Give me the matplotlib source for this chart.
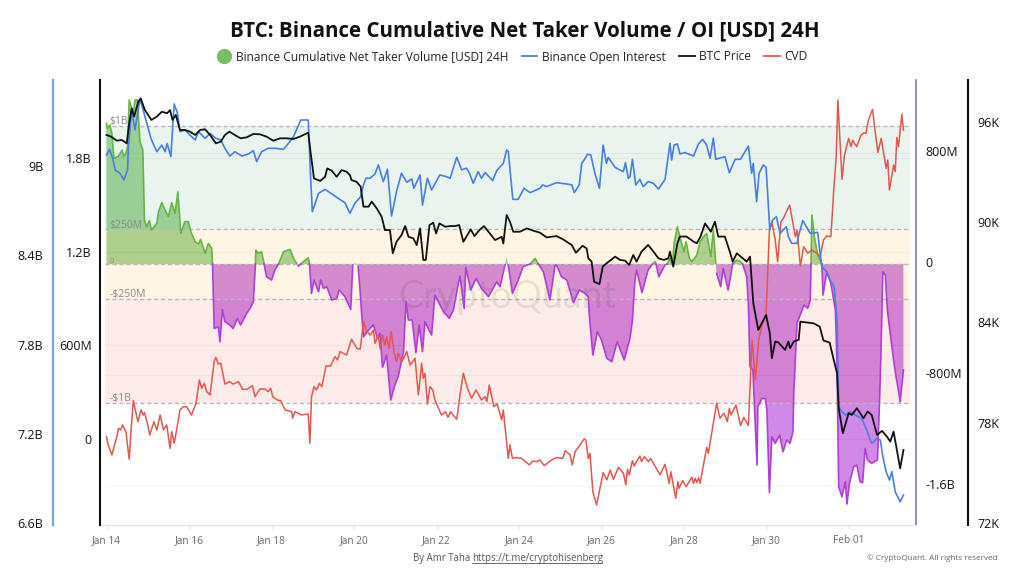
import numpy as np
import matplotlib
matplotlib.use("Agg")
import matplotlib.pyplot as plt
from matplotlib.lines import Line2D
from matplotlib.transforms import ScaledTranslation

plt.rcParams['font.family'] = ['Open Sans', 'DejaVu Sans']

# x values are days since Jan 14
x_ticks = [0, 2, 4, 6, 8, 10, 12, 14, 16, 18]
x_labels = ["Jan 14", "Jan 16", "Jan 18", "Jan 20", "Jan 22", "Jan 24", "Jan 26", "Jan 28", "Jan 30", "Feb 01"]

btc_days = [0.0, .11, .25, .37, .49, .55, .61, .67, .77, .83, .93, 1.09, 1.22, 1.34, 1.47, 1.54, 1.60, 1.68, 1.78, 1.90,
            2.02, 2.15, 2.27, 2.39, 2.51, 2.65, 2.77, 2.87, 2.98, 3.11, 3.25, 3.40, 3.56, 3.72, 3.88, 4.04, 4.21, 4.37, 4.53, 4.69,
            4.89, 4.95, 5.03, 5.18, 5.30, 5.35, 5.46, 5.58, 5.70, 5.82, 5.90, 5.94, 6.06, 6.16, 6.23, 6.35, 6.43, 6.55, 6.67, 6.75,
            6.87, 6.94, 7.03, 7.15, 7.24, 7.32, 7.44, 7.52, 7.60, 7.68, 7.74, 7.83, 7.92, 7.99, 8.07, 8.21, 8.33, 8.45, 8.55, 8.65,
            8.77, 8.83, 8.92, 9.04, 9.15, 9.26, 9.42, 9.58, 9.62, 9.70, 9.78, 9.86, 10.02, 10.19, 10.35, 10.51, 10.67, 10.91, 11.07, 11.28,
            11.38, 11.54, 11.64, 11.68, 11.76, 11.82, 11.95, 12.03, 12.12, 12.33, 12.45, 12.57, 12.67, 12.77, 12.85, 12.97, 13.13, 13.26, 13.38, 13.51,
            13.62, 13.66, 13.74, 13.84, 13.90, 14.06, 14.23, 14.31, 14.40, 14.51, 14.65, 14.75, 14.83, 14.99, 15.11, 15.18, 15.28, 15.52, 15.60, 15.68,
            15.74, 15.80, 15.99, 16.08, 16.13, 16.21, 16.29, 16.45, 16.53, 16.57, 16.66, 16.78, 16.82, 17.02, 17.14, 17.29, 17.38, 17.53, 17.63, 17.71,
            17.75, 17.85, 17.99, 18.07, 18.19, 18.35, 18.45, 18.55, 18.68, 18.80, 18.92, 19.00, 19.08, 19.24, 19.32]
btc_k = [95.22, 95.12, 94.88, 94.92, 94.72, 95.92, 96.81, 96.32, 97.21, 97.41, 96.71, 96.12, 96.32, 96.61, 96.52, 96.71, 96.12, 96.42, 95.52, 95.52,
         95.42, 95.22, 95.52, 95.56, 95.22, 94.72, 94.82, 95.22, 95.42, 95.22, 95.02, 95.08, 95.28, 95.26, 95.12, 94.88, 95.02, 95.02, 94.98, 95.12,
         95.36, 94.12, 92.62, 92.47, 92.72, 93.22, 93.08, 92.72, 93.12, 93.02, 92.82, 92.52, 92.42, 92.13, 90.93, 90.93, 91.23, 90.83, 90.33, 89.53,
         89.53, 88.14, 88.83, 89.23, 89.77, 89.13, 89.03, 88.63, 89.63, 87.74, 87.74, 89.83, 89.97, 89.33, 89.93, 89.73, 89.77, 89.77, 89.83, 88.83,
         89.33, 89.57, 89.17, 89.53, 89.77, 89.43, 88.93, 89.13, 88.73, 90.43, 90.03, 89.43, 89.43, 89.63, 89.49, 89.37, 89.09, 89.17, 88.97, 88.63,
         88.17, 88.59, 88.43, 87.84, 87.64, 86.44, 86.30, 87.34, 87.54, 87.94, 87.74, 87.70, 87.44, 88.04, 87.64, 88.24, 88.64, 88.24, 87.84, 87.74,
         87.84, 88.24, 87.34, 88.74, 89.14, 89.14, 88.84, 88.74, 89.14, 89.93, 89.43, 90.03, 89.14, 89.14, 88.24, 87.64, 88.14, 87.64, 87.94, 85.15,
         84.35, 83.55, 84.45, 83.35, 81.86, 82.86, 82.80, 82.36, 82.86, 82.46, 82.86, 82.96, 84.05, 83.99, 83.95, 83.75, 82.92, 82.80, 81.76, 80.96,
         78.87, 77.37, 78.57, 78.47, 78.87, 78.27, 78.67, 78.47, 77.27, 77.51, 77.17, 76.87, 77.47, 75.27, 76.37]

oi_days = [0.0, .07, .15, .21, .33, .42, .51, .53, .61, .69, .81, .89, 1.01, 1.09, 1.22, 1.34, 1.42, 1.47, 1.56, 1.64,
           1.72, 1.78, 1.90, 2.02, 2.15, 2.23, 2.39, 2.51, 2.65, 2.77, 2.87, 2.99, 3.11, 3.28, 3.44, 3.56, 3.64, 3.76, 3.92, 4.08,
           4.29, 4.41, 4.53, 4.71, 4.89, 4.95, 4.99, 5.14, 5.30, 5.50, 5.62, 5.78, 5.90, 6.02, 6.16, 6.23, 6.29, 6.39, 6.51, 6.59,
           6.71, 6.81, 6.91, 7.03, 7.15, 7.28, 7.40, 7.45, 7.60, 7.66, 7.78, 7.88, 8.08, 8.23, 8.33, 8.49, 8.61, 8.73, 8.80, 8.89,
           9.01, 9.09, 9.18, 9.36, 9.46, 9.62, 9.70, 9.74, 9.85, 9.98, 10.12, 10.27, 10.51, 10.57, 10.67, 10.91, 11.16, 11.28, 11.34, 11.46,
           11.52, 11.58, 11.66, 11.74, 11.84, 11.95, 12.04, 12.12, 12.16, 12.33, 12.41, 12.53, 12.58, 12.65, 12.69, 12.75, 12.83, 12.93, 13.01, 13.13,
           13.26, 13.38, 13.54, 13.66, 13.70, 13.76, 13.84, 13.90, 14.02, 14.23, 14.35, 14.45, 14.55, 14.63, 14.71, 14.77, 14.99, 15.10, 15.24, 15.37,
           15.56, 15.64, 15.68, 15.76, 15.82, 15.92, 15.99, 16.08, 16.15, 16.24, 16.33, 16.48, 16.53, 16.61, 16.74, 16.78, 16.88, 17.06, 17.24, 17.34,
           17.46, 17.54, 17.64, 17.71, 17.75, 17.83, 17.91, 18.03, 18.15, 18.31, 18.43, 18.55, 18.68, 18.76, 18.82, 18.90, 18.98, 19.04, 19.12, 19.24, 19.32]
oi_b = [9.074, 9.112, 9.051, 8.973, 8.950, 8.906, 8.973, 9.130, 9.376, 9.242, 9.448, 9.376, 9.253, 9.175, 9.096, 9.141, 9.096, 9.152, 9.063, 9.417,
        9.354, 9.231, 9.242, 9.208, 9.175, 9.231, 9.186, 9.219, 9.186, 9.175, 9.119, 9.067, 9.096, 9.067, 9.081, 9.103, 9.029, 9.096, 9.119, 9.119,
        9.112, 9.152, 9.197, 9.309, 9.309, 8.906, 8.693, 8.816, 8.843, 8.805, 8.782, 8.753, 8.682, 8.749, 8.794, 8.873, 8.918, 8.918, 8.947, 9.007,
        8.895, 8.978, 8.664, 8.828, 8.951, 8.891, 8.913, 8.850, 8.940, 8.738, 8.918, 8.839, 8.940, 8.929, 8.918, 9.059, 8.974, 8.985, 8.951, 8.884,
        8.962, 8.918, 8.956, 8.902, 8.969, 9.018, 9.108, 9.097, 8.776, 8.776, 8.850, 8.821, 8.850, 8.873, 8.862, 8.888, 8.879, 8.873, 8.821, 8.873,
        9.018, 9.041, 9.079, 9.074, 8.951, 8.850, 9.141, 9.018, 9.058, 8.991, 8.978, 8.962, 9.022, 8.917, 8.928, 9.045, 8.872, 8.910, 8.861, 8.895,
        8.883, 8.845, 8.910, 9.152, 9.040, 9.141, 9.148, 9.081, 9.090, 9.067, 9.148, 9.179, 9.141, 9.052, 9.186, 9.045, 9.063, 8.955, 9.045, 9.045,
        9.134, 8.951, 9.018, 8.760, 8.951, 9.007, 8.991, 8.570, 8.637, 8.659, 8.547, 8.592, 8.525, 8.480, 8.480, 8.536, 8.633, 8.547, 8.554, 8.323,
        8.290, 8.234, 8.189, 7.965, 7.382, 7.348, 7.326, 7.348, 7.326, 7.303, 7.225, 7.135, 7.169, 7.158, 7.046, 6.945, 6.889, 6.945, 6.810, 6.743, 6.788]

cvd_days = [0.0, .04, .13, .25, .29, .34, .39, .47, .55, .59, .65, .76, .84, .89, .92, .99, 1.05, 1.15, 1.22, 1.30,
            1.38, 1.46, 1.54, 1.58, 1.64, 1.70, 1.78, 1.86, 1.94, 2.06, 2.17, 2.25, 2.31, 2.37, 2.43, 2.51, 2.61, 2.65, 2.71, 2.77,
            2.87, 2.98, 3.07, 3.20, 3.30, 3.40, 3.54, 3.60, 3.72, 3.84, 3.92, 3.98, 4.03, 4.14, 4.22, 4.33, 4.49, 4.51, 4.57, 4.73,
            4.89, 4.93, 4.97, 5.03, 5.09, 5.16, 5.22, 5.32, 5.43, 5.54, 5.60, 5.66, 5.82, 5.94, 6.07, 6.15, 6.23, 6.31, 6.40, 6.47,
            6.51, 6.59, 6.63, 6.69, 6.75, 6.79, 6.85, 6.90, 6.97, 7.03, 7.07, 7.16, 7.28, 7.36, 7.48, 7.56, 7.64, 7.68, 7.72, 7.78,
            7.84, 7.91, 7.96, 8.12, 8.22, 8.28, 8.34, 8.49, 8.57, 8.65, 8.75, 8.85, 8.96, 9.09, 9.18, 9.22, 9.28, 9.39, 9.47, 9.58,
            9.62, 9.74, 9.78, 9.84, 9.94, 10.06, 10.25, 10.33, 10.43, 10.51, 10.61, 10.79, 10.91, 11.06, 11.12, 11.24, 11.29, 11.36, 11.58, 11.62,
            11.68, 11.72, 11.79, 11.88, 12.04, 12.13, 12.21, 12.29, 12.41, 12.53, 12.59, 12.63, 12.67, 12.75, 12.79, 12.93, 12.97, 13.04, 13.14, 13.19,
            13.42, 13.54, 13.64, 13.68, 13.80, 13.85, 13.88, 13.97, 14.05, 14.19, 14.23, 14.27, 14.31, 14.35, 14.39, 14.55, 14.59, 14.79, 14.87, 14.97,
            15.05, 15.10, 15.14, 15.26, 15.37, 15.45, 15.56, 15.65, 15.73, 15.81, 15.89, 15.99, 16.07, 16.13, 16.21, 16.27, 16.35, 16.41, 16.56, 16.70,
            16.74, 16.82, 16.90, 17.00, 17.10, 17.22, 17.30, 17.38, 17.46, 17.56, 17.63, 17.69, 17.73, 17.83, 17.89, 17.99, 18.05, 18.09, 18.13, 18.19,
            18.29, 18.37, 18.41, 18.47, 18.57, 18.64, 18.70, 18.78, 18.90, 18.94, 18.98, 19.08, 19.12, 19.16, 19.20, 19.28, 19.32]
cvd_b = [.015, -.038, -.102, .015, .069, .058, .090, .047, -.130, .037, .246, .111, .186, .154, .169, .101, .026, .111, .058, .154,
         .058, .090, -.060, .047, -.027, .058, .186, .207, .207, .154, .229, .378, .325, .357, .303, .282, .496, .523, .481, .485,
         .352, .367, .352, .367, .318, .318, .342, .271, .320, .320, .303, .325, .271, .250, .246, .186, .175, .133, .175, .154,
         .160, -.027, .271, .335, .314, .357, .335, .468, .468, .528, .506, .560, .538, .639, .581, .575, .752, .688, .666, .698,
         .613, .666, .581, .666, .602, .656, .581, .688, .560, .495, .549, .495, .560, .474, .517, .282, .485, .389, .421, .224,
         .335, .314, .250, .154, .175, .139, .175, .126, .282, .421, .325, .261, .314, .250, .271, .239, .346, .207, .224, .122,
         .186, -.124, -.038, -.124, -.119, -.124, -.166, -.141, -.145, -.134, -.171, -.134, -.119, -.124, -.075, -.102, -.166, -.081, .0, -.006,
         -.124, -.092, -.337, -.423, -.215, -.262, -.198, -.258, -.181, -.220, -.294, -.194, -.230, -.139, -.173, -.109, -.145, -.113, -.145, -.124,
         -.230, -.162, -.284, -.209, -.380, -.273, -.316, -.267, -.305, -.245, -.284, -.252, -.280, -.248, -.284, -.053, -.092, .229, .133, .165,
         .111, .197, .154, .218, .086, .139, .086, .634, .378, .634, .730, .805, 1.339, 1.392, 1.275, 1.136, 1.392, 1.414, 1.499, 1.296,
         1.339, 1.108, 1.232, 1.190, 1.211, 1.190, 1.168, 1.275, 1.301, 1.296, 1.595, 1.809, 2.172, 1.664, 1.819, 1.926, 1.873, 1.915, 1.894, 1.873,
         1.947, 1.962, 1.958, 2.043, 2.112, 1.958, 1.836, 1.926, 1.734, 1.787, 1.595, 1.755, 1.713, 1.932, 1.873, 2.080, 1.979]

vol_days = [0.0, .02, .08, .13, .18, .29, .38, .41, .47, .51, .55, .65, .69, .75, .81, .88, .92, .97, 1.04, 1.09,
            1.22, 1.26, 1.34, 1.42, 1.50, 1.58, 1.66, 1.73, 1.80, 1.90, 1.98, 2.06, 2.15, 2.23, 2.28, 2.39, 2.47, 2.55, 2.57, 2.61,
            2.71, 2.75, 2.81, 2.87, 2.99, 3.07, 3.17, 3.25, 3.40, 3.48, 3.56, 3.61, 3.62, 3.68, 3.76, 3.82, 3.88, 4.00, 4.08, 4.17,
            4.21, 4.29, 4.45, 4.55, 4.61, 4.65, 4.71, 4.77, 4.89, 4.92, 4.97, 5.03, 5.14, 5.19, 5.26, 5.34, 5.46, 5.58, 5.64, 5.78,
            5.92, 5.97, 6.02, 6.10, 6.14, 6.19, 6.23, 6.35, 6.47, 6.57, 6.63, 6.69, 6.79, 6.89, 6.99, 7.07, 7.20, 7.26, 7.32, 7.41,
            7.50, 7.58, 7.66, 7.72, 7.88, 7.96, 8.17, 8.31, 8.41, 8.53, 8.57, 8.67, 8.71, 8.83, 8.96, 9.09, 9.26, 9.46, 9.54, 9.66,
            9.70, 9.74, 9.84, 9.98, 10.10, 10.27, 10.39, 10.47, 10.59, 10.75, 10.87, 10.91, 11.03, 11.16, 11.32, 11.46, 11.60, 11.68, 11.70, 11.79,
            11.90, 12.00, 12.13, 12.25, 12.38, 12.55, 12.69, 12.75, 12.81, 12.85, 12.89, 12.98, 13.13, 13.24, 13.30, 13.32, 13.39, 13.54, 13.59, 13.66,
            13.72, 13.76, 13.84, 13.92, 14.00, 14.05, 14.13, 14.19, 14.31, 14.39, 14.47, 14.55, 14.65, 14.71, 14.77, 14.79, 14.89, 14.95, 15.07, 15.18,
            15.28, 15.37, 15.42, 15.52, 15.56, 15.60, 15.67, 15.77, 15.79, 15.89, 15.97, 16.01, 16.07, 16.13, 16.21, 16.32, 16.40, 16.49, 16.57, 16.64,
            16.66, 16.74, 16.80, 16.91, 17.00, 17.06, 17.08, 17.10, 17.16, 17.24, 17.32, 17.34, 17.37, 17.46, 17.56, 17.67, 17.71, 17.75, 17.83, 17.91,
            17.95, 18.01, 18.11, 18.19, 18.27, 18.33, 18.39, 18.45, 18.55, 18.69, 18.73, 18.77, 18.82, 18.88, 18.93, 19.00, 19.08, 19.14, 19.19, 19.24, 19.32]
vol_b = [1.016, .979, 1.004, .943, .763, .780, .823, .775, .799, .847, 1.184, 1.088, 1.184, 1.184, .883, .823, .318, .269, .313, .245,
         .294, .378, .443, .390, .342, .443, .366, .522, .221, .306, .306, .221, .161, .144, .178, .077, .149, .113, 0.0, -.465,
         -.453, -.561, -.327, -.416, -.440, -.465, -.392, -.440, -.356, -.320, -.272, 0.0, .101, .077, .089, 0.0, -.092, -.116, -.044, 0.0,
         .029, .089, .106, .029, .005, -.015, 0.0, .017, .046, 0.0, -.212, -.116, -.200, -.116, -.176, -.164, -.260, -.248, -.188, -.236,
         -.327, -.007, .009, -.019, -.164, -.381, -.525, -.477, -.440, -.537, -.501, -.746, -.657, -.982, -.874, -.814, -.633, -.272, -.404, -.404,
         -.640, -.440, -.633, -.416, -.513, -.224, -.344, -.392, -.332, -.140, -.087, -.320, -.024, -.188, -.104, -.176, -.236, -.128, -.164, -.007,
         .053, -.007, -.212, -.116, -.019, 0.0, .041, 0.0, -.055, -.260, -.015, -.007, -.092, -.116, -.279, -.188, -.212, -.236, -.356, -.657,
         -.489, -.549, -.681, -.705, -.561, -.693, -.537, -.404, -.116, -.043, -.092, -.207, -.043, 0.0, .017, 0.0, -.092, -.007, 0.0, .041,
         0.0, .149, .269, .173, .089, .161, .041, .017, .065, .161, .197, .221, .053, .245, .005, -.067, -.164, -.031, -.188, 0.0,
         .029, .017, 0.0, -.092, -.284, -.741, -.765, -1.451, -1.030, -.970, -.970, -1.054, -1.651, -1.247, -1.295, -1.235, -1.355, -1.271, -1.295, -1.211,
         -.934, -.428, -.380, -.296, -.320, -.260, 0.0, .354, .197, .065, .017, 0.0, -.224, -.056, -.140, -.332, -.741, -1.608, -1.680, -1.572,
         -1.733, -1.584, -1.464, -1.451, -1.572, -1.579, -1.331, -1.415, -1.439, -1.415, -1.078, -.693, -.056, -.080, -.333, -.501, -.693, -.814, -.898, -.994, -.765]

vol_ticks = [0.8, 0, -0.8, -1.6]
vol_labels = ["800M", "0", "-800M", "-1.6B"]
cvd_ticks = [1.8, 1.2, 0.6, 0]
cvd_labels = ["1.8B", "1.2B", "600M", "0"]
oi_ticks = [9, 8.4, 7.8, 7.2, 6.6]
oi_labels = ["9B", "8.4B", "7.8B", "7.2B", "6.6B"]
btc_ticks = [96, 90, 84, 78, 72]
btc_labels = ["96K", "90K", "84K", "78K", "72K"]

levels = [1, 0.25, 0, -0.25, -1]
level_labels = ["$1B", "$250M", "0", "-$250M", "-$1B"]

fig = plt.figure(figsize=(10.24, 5.76), dpi=100)
ax = fig.add_axes([100/1024, 51/576, 816/1024, 445/576])
ax_cvd = ax.twinx()
ax_oi = ax.twinx()
ax_btc = ax.twinx()

ax.set_xlim(-0.158, 19.624)
ax.set_ylim(-1.884, 1.3285)
ax_cvd.set_ylim(-0.551, 2.300)
ax_oi.set_ylim(6.587, 9.578)
ax_btc.set_ylim(71.88, 98.51)

# volume area first, the tinted bands sit over it
vd = np.array(vol_days)
vb = np.array(vol_b)
ax.fill_between(vd, 0, vb, where=vb >= 0, interpolate=True, color=(95/255, 180/255, 78/255), alpha=0.55, lw=0, zorder=1)
ax.fill_between(vd, 0, vb, where=vb <= 0, interpolate=True, color=(170/255, 40/255, 210/255), alpha=0.55, lw=0, zorder=1)

band_x = [-0.04, 19.48]
ax.fill_between(band_x, 0.25, 1, color=(35/255, 155/255, 85/255), alpha=0.1, lw=0, zorder=2)
ax.fill_between(band_x, -0.25, 0.25, color=(1, 165/255, 0), alpha=0.1, lw=0, zorder=2)
ax.fill_between(band_x, -1, -0.25, color=(235/255, 65/255, 45/255), alpha=0.1, lw=0, zorder=2)

# faint grid of the two inner axes
for v in vol_ticks:
    ax.plot(band_x, [v, v], color="#000000", alpha=0.045, lw=1, zorder=2)
for v in cvd_ticks:
    ax_cvd.plot(band_x, [v, v], color="#000000", alpha=0.035, lw=1, zorder=1)

for lev, lab in zip(levels, level_labels):
    ax.plot(band_x, [lev, lev], color="#b9b9b9", lw=1, ls=(0, (3, 2)), zorder=3)
    fs = 5 if lab == "0" else 7.5
    ax.text(0.07, lev - 0.008, lab, color="#8a8a8a", fontsize=fs, ha="left", va="bottom", zorder=3)

ax.text(507/1024, 1 - 297/576, "CryptoQuant", transform=fig.transFigure, fontsize=27, color="#000000",
        family="Lato", alpha=0.085, ha="center", va="center", zorder=4)

ax.plot(vd, np.ma.masked_where(vb < 0, vb), color="#66b546", lw=1.2, zorder=5)
ax.plot(vd, np.ma.masked_where(vb > 0, vb), color="#b03fd6", lw=1.2, zorder=5)

ax_cvd.plot(cvd_days, cvd_b, color="#e2574f", lw=1.1)
ax_oi.plot(oi_days, oi_b, color="#4a7fe0", lw=1.2)
ax_btc.plot(btc_days, btc_k, color="#111111", lw=1.3)

ax.set_xticks(x_ticks)
ax.set_xticklabels(x_labels)
ax.tick_params(axis="x", length=3, color="#e2e2e2", pad=4.5, labelsize=7.3, labelcolor="#666666")

ax.yaxis.tick_right()
ax.set_yticks(vol_ticks)
ax.set_yticklabels(vol_labels)
ax.tick_params(axis="y", length=0, pad=7, labelsize=9, labelcolor="#111111")
# these labels sit a little above their grid lines
lift = ScaledTranslation(0, 0.02, fig.dpi_scale_trans)
for lab in ax.get_yticklabels():
    lab.set_transform(lab.get_transform() + lift)

ax_cvd.yaxis.tick_left()
ax_cvd.set_yticks(cvd_ticks)
ax_cvd.set_yticklabels(cvd_labels)
ax_cvd.tick_params(axis="y", length=0, pad=6, labelsize=9, labelcolor="#111111")

ax_oi.yaxis.tick_left()
ax_oi.set_yticks(oi_ticks)
ax_oi.set_yticklabels(oi_labels)
ax_oi.tick_params(axis="y", length=0, pad=7, labelsize=9, labelcolor="#111111")

ax_btc.set_yticks(btc_ticks)
ax_btc.set_yticklabels(btc_labels)
ax_btc.tick_params(axis="y", length=0, pad=7, labelsize=9, labelcolor="#111111")

for a in [ax, ax_cvd, ax_oi, ax_btc]:
    for s in a.spines.values():
        s.set_visible(False)

ax.spines["bottom"].set_visible(True)
ax.spines["bottom"].set_color("#e6e6e6")
ax.spines["right"].set_visible(True)
ax.spines["right"].set_color("#7d80a0")
ax.spines["right"].set_linewidth(1.2)
ax_cvd.spines["left"].set_visible(True)
ax_cvd.spines["left"].set_color("#111111")
ax_cvd.spines["left"].set_linewidth(1.5)
ax_oi.spines["left"].set_visible(True)
ax_oi.spines["left"].set_position(("outward", 47 * 0.72))
ax_oi.spines["left"].set_color("#7f9fe8")
ax_oi.spines["left"].set_linewidth(1.6)
ax_btc.spines["right"].set_visible(True)
ax_btc.spines["right"].set_position(("outward", 52 * 0.72))
ax_btc.spines["right"].set_color("#111111")
ax_btc.spines["right"].set_linewidth(1.5)

fig.text(525/1024, 1 - 31/576, "BTC: Binance Cumulative Net Taker Volume / OI [USD] 24H",
         fontsize=14.8, fontweight="bold", color="#111111", ha="center", va="center")

handles = [
    Line2D([], [], ls="", marker="o", ms=10, color="#77c063"),
    Line2D([], [], color="#4a7fe0", lw=1.3),
    Line2D([], [], color="#111111", lw=1.3),
    Line2D([], [], color="#e2574f", lw=1.3),
]
names = ["Binance Cumulative Net Taker Volume [USD] 24H", "Binance Open Interest", "BTC Price", "CVD"]
fig.legend(handles, names, loc="center", bbox_to_anchor=(512/1024, 1 - 57/576), ncol=4, frameon=False,
           fontsize=8.6, handlelength=1.3, handletextpad=0.4, columnspacing=1.1, labelcolor="#222222")

fig.text(413/1024, 1 - 558/576, "By Amr Taha", fontsize=6.9, color="#555555", ha="left", va="center")
fig.text(472/1024, 1 - 558/576, "https://t.me/cryptohisenberg", fontsize=6.9, color="#555555", ha="left", va="center")
fig.add_artist(Line2D([472/1024, 602/1024], [1 - 563/576, 1 - 563/576], color="#555555", lw=0.6))
fig.text(998/1024, 1 - 558/576, "© CryptoQuant. All rights reserved", fontsize=5.9, color="#666666", ha="right", va="center")

fig.savefig("out.png", dpi=100)
